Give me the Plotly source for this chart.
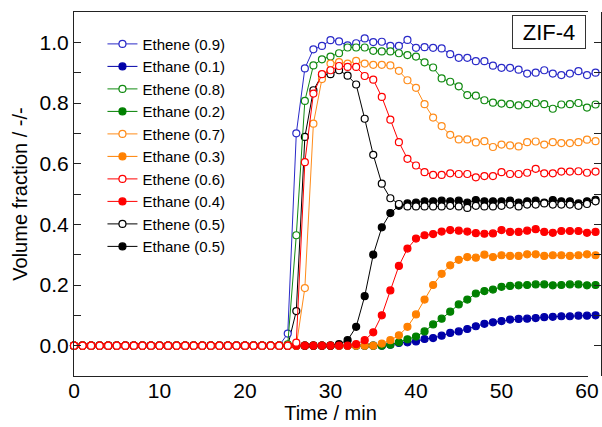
import plotly.graph_objects as go

time_min = [0, 1, 2, 3, 4, 5, 6, 7, 8, 9, 10, 11, 12, 13, 14, 15, 16, 17, 18, 19,
            20, 21, 22, 23, 24, 25, 26, 27, 28, 29, 30, 31, 32, 33, 34, 35, 36, 37, 38, 39,
            40, 41, 42, 43, 44, 45, 46, 47, 48, 49, 50, 51, 52, 53, 54, 55, 56, 57, 58, 59,
            60, 61]

ethene_09 = [0, 0, 0, 0, 0, 0, 0, 0, 0, 0, 0, 0, 0, 0, 0, 0, 0, 0, 0, 0,
             0, 0, 0, 0, 0, 0.04, 0.70, 0.914, 0.977, 0.988, 1.007, 1.003, 0.990, 0.997, 1.013, 1.001, 1.002, 0.988, 0.988, 1.008,
             0.982, 0.984, 0.982, 0.980, 0.961, 0.949, 0.949, 0.938, 0.938, 0.923, 0.916, 0.916, 0.910, 0.897, 0.900, 0.908, 0.897, 0.892, 0.897, 0.905,
             0.892, 0.900]
ethane_01 = [0, 0, 0, 0, 0, 0, 0, 0, 0, 0, 0, 0, 0, 0, 0, 0, 0, 0, 0, 0,
             0, 0, 0, 0, 0, 0, 0, 0, 0, 0, 0, 0, 0, 0, 0, 0, 0, 0.003, 0.009, 0.011,
             0.014, 0.022, 0.025, 0.033, 0.042, 0.047, 0.055, 0.064, 0.072, 0.077, 0.081, 0.086, 0.088, 0.089, 0.091, 0.094, 0.095, 0.097, 0.097, 0.099,
             0.099, 0.100]
ethene_08 = [0, 0, 0, 0, 0, 0, 0, 0, 0, 0, 0, 0, 0, 0, 0, 0, 0, 0, 0, 0,
             0, 0, 0, 0, 0, 0.004, 0.364, 0.807, 0.924, 0.944, 0.953, 0.964, 0.983, 0.983, 0.983, 0.972, 0.970, 0.970, 0.964, 0.958,
             0.953, 0.934, 0.917, 0.881, 0.870, 0.855, 0.826, 0.824, 0.809, 0.801, 0.798, 0.796, 0.792, 0.796, 0.800, 0.796, 0.781, 0.795, 0.796, 0.800,
             0.785, 0.795]
ethane_02 = [0, 0, 0, 0, 0, 0, 0, 0, 0, 0, 0, 0, 0, 0, 0, 0, 0, 0, 0, 0,
             0, 0, 0, 0, 0, 0, 0, 0, 0, 0, 0, 0, 0, 0, 0, 0, 0, 0.003, 0.011, 0.021,
             0.030, 0.047, 0.070, 0.089, 0.112, 0.136, 0.152, 0.172, 0.180, 0.185, 0.194, 0.197, 0.199, 0.200, 0.202, 0.202, 0.199, 0.200, 0.202, 0.202,
             0.199, 0.200]
ethene_07 = [0, 0, 0, 0, 0, 0, 0, 0, 0, 0, 0, 0, 0, 0, 0, 0, 0, 0, 0, 0,
             0, 0, 0, 0, 0, 0, 0, 0.19, 0.732, 0.879, 0.930, 0.935, 0.930, 0.939, 0.930, 0.926, 0.926, 0.924, 0.906, 0.875,
             0.850, 0.796, 0.752, 0.724, 0.695, 0.680, 0.680, 0.670, 0.674, 0.655, 0.663, 0.660, 0.657, 0.671, 0.673, 0.663, 0.671, 0.668, 0.668, 0.671,
             0.679, 0.674]
ethane_03 = [0, 0, 0, 0, 0, 0, 0, 0, 0, 0, 0, 0, 0, 0, 0, 0, 0, 0, 0, 0,
             0, 0, 0, 0, 0, 0, 0, 0, 0, 0, 0, 0, 0, 0, 0, 0, 0.007, 0.018, 0.034, 0.062,
             0.103, 0.152, 0.200, 0.237, 0.265, 0.283, 0.292, 0.290, 0.300, 0.292, 0.298, 0.296, 0.296, 0.301, 0.301, 0.296, 0.298, 0.298, 0.296, 0.298,
             0.301, 0.298]
ethene_06 = [0, 0, 0, 0, 0, 0, 0, 0, 0, 0, 0, 0, 0, 0, 0, 0, 0, 0, 0, 0,
             0, 0, 0, 0, 0, 0, 0.01, 0.605, 0.831, 0.895, 0.908, 0.922, 0.919, 0.919, 0.889, 0.877, 0.820, 0.745, 0.671, 0.616,
             0.594, 0.572, 0.563, 0.563, 0.568, 0.566, 0.566, 0.555, 0.559, 0.559, 0.572, 0.566, 0.566, 0.570, 0.583, 0.568, 0.568, 0.574, 0.574, 0.575,
             0.570, 0.574]
ethane_04 = [0, 0, 0, 0, 0, 0, 0, 0, 0, 0, 0, 0, 0, 0, 0, 0, 0, 0, 0, 0,
             0, 0, 0, 0, 0, 0, 0, 0, 0, 0, 0, 0, 0, 0.005, 0.018, 0.044, 0.100, 0.182, 0.263, 0.320,
             0.353, 0.364, 0.368, 0.376, 0.381, 0.379, 0.376, 0.371, 0.369, 0.370, 0.381, 0.375, 0.375, 0.379, 0.384, 0.375, 0.372, 0.378, 0.378, 0.378,
             0.372, 0.375]
ethene_05 = [0, 0, 0, 0, 0, 0, 0, 0, 0, 0, 0, 0, 0, 0, 0, 0, 0, 0, 0, 0,
             0, 0, 0, 0, 0, 0, 0.114, 0.688, 0.842, 0.892, 0.895, 0.908, 0.890, 0.861, 0.748, 0.629, 0.534, 0.486, 0.467, 0.459,
             0.459, 0.459, 0.459, 0.459, 0.461, 0.459, 0.454, 0.461, 0.459, 0.459, 0.461, 0.465, 0.459, 0.465, 0.465, 0.469, 0.465, 0.465, 0.465, 0.461,
             0.467, 0.476]
ethane_05 = [0, 0, 0, 0, 0, 0, 0, 0, 0, 0, 0, 0, 0, 0, 0, 0, 0, 0, 0, 0,
             0, 0, 0, 0, 0, 0, 0, 0, 0, 0, 0, 0.005, 0.018, 0.062, 0.163, 0.300, 0.390, 0.437, 0.461, 0.469,
             0.472, 0.476, 0.476, 0.478, 0.476, 0.478, 0.472, 0.480, 0.476, 0.476, 0.476, 0.478, 0.472, 0.476, 0.478, 0.472, 0.480, 0.476, 0.476, 0.469,
             0.476, 0.481]

# (name, values, color, filled, legend rank)
series = [
    ("Ethane (0.1)", ethane_01, "#0000a8", True, 2),
    ("Ethane (0.2)", ethane_02, "#008000", True, 4),
    ("Ethane (0.3)", ethane_03, "#ff8000", True, 6),
    ("Ethane (0.5)", ethane_05, "#000000", True, 10),
    ("Ethene (0.5)", ethene_05, "#000000", False, 9),
    ("Ethene (0.9)", ethene_09, "#2a2ac8", False, 1),
    ("Ethene (0.8)", ethene_08, "#118a11", False, 3),
    ("Ethene (0.7)", ethene_07, "#ff8c1a", False, 5),
    ("Ethane (0.4)", ethane_04, "#ff0000", True, 8),
    ("Ethene (0.6)", ethene_06, "#ff0000", False, 7),
]

fig = go.Figure()
for name, vals, color, filled, rank in series:
    fig.add_trace(go.Scatter(
        x=time_min, y=vals, name=name, mode="lines+markers",
        xaxis="x2", yaxis="y",
        line=dict(color=color, width=1),
        marker=dict(symbol="circle", size=7,
                    color=color if filled else "white",
                    line=dict(color=color, width=1.2)),
        cliponaxis=False, legendrank=rank,
    ))

font_family = "Arial, Liberation Sans, sans-serif"
x_main_end = 513 / 527

fig.update_layout(
    width=602, height=427,
    margin=dict(l=74, r=1, t=12, b=51, autoexpand=False),
    paper_bgcolor="white", plot_bgcolor="white",
    font=dict(family=font_family, color="black"),
    showlegend=True,
    legend=dict(x=0.054, y=0.957, xanchor="left", yanchor="top",
                bgcolor="rgba(0,0,0,0)", font=dict(size=15, family=font_family),
                tracegroupgap=0, borderwidth=0),
    xaxis=dict(domain=[0, x_main_end], range=[0, 60], anchor="y", automargin=False,
               showgrid=False, zeroline=False,
               showline=True, linecolor="#222", linewidth=1.2, mirror="allticks",
               ticks="inside", ticklen=7, tickwidth=1.2, tickcolor="#222",
               tick0=0, dtick=10, ticklabelstandoff=-4,
               minor=dict(ticks="inside", ticklen=4, dtick=5, tickcolor="#222", tickwidth=1.2),
               tickfont=dict(size=21),
               title=dict(text="Time / min", font=dict(size=20), standoff=3)),
    xaxis2=dict(domain=[0, 1], range=[0, 60 / x_main_end], anchor="y", automargin=False,
                visible=False, showgrid=False, zeroline=False),
    yaxis=dict(domain=[0, 1], range=[-0.1, 1.1], anchor="x", automargin=False,
               showgrid=False, zeroline=False,
               showline=True, linecolor="#222", linewidth=1.2, mirror="allticks",
               ticks="inside", ticklen=7, tickwidth=1.2, tickcolor="#222",
               tick0=0, dtick=0.2, tickformat=".1f",
               minor=dict(ticks="inside", ticklen=4, dtick=0.1, tickcolor="#222", tickwidth=1.2),
               tickfont=dict(size=21),
               title=dict(text="Volume fraction / -/-", font=dict(size=20), standoff=6)),
    annotations=[dict(text="ZIF-4", xref="x", yref="y",
                      x=59.9, y=1.09,
                      xanchor="right", yanchor="top", showarrow=False,
                      width=70, height=30, align="center",
                      font=dict(size=22, family=font_family),
                      bordercolor="#333", borderwidth=1, borderpad=1,
                      bgcolor="white")],
)

fig.write_html("out.html")
